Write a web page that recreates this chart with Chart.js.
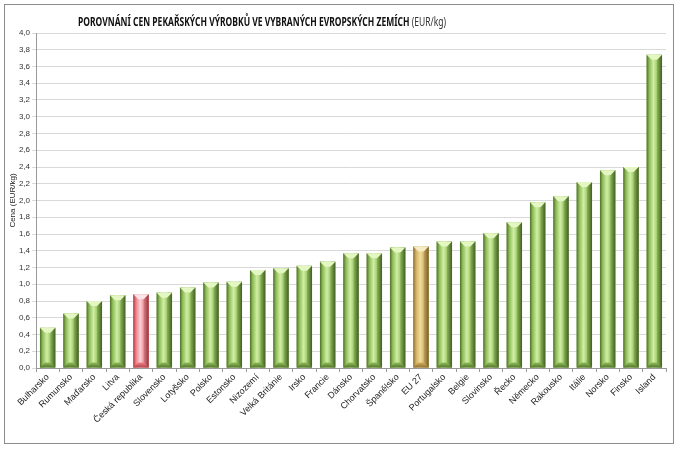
<!DOCTYPE html>
<html lang="cs">
<head>
  <meta charset="UTF-8" />
  <title>Porovnání cen pekařských výrobků</title>
  <script src="https://cdn.jsdelivr.net/npm/chart.js"></script>
  <style>
    body { margin: 0; background: #fff; }
    #wrap { position: relative; width: 682px; height: 449px; }
  </style>
</head>
<body>
  <div id="wrap"><canvas id="chart" width="682" height="449"></canvas></div>

  <script>
    // data
    const countries = ['Bulharsko', 'Rumunsko', 'Maďarsko', 'Litva', 'Česká republika', 'Slovensko', 'Lotyšsko',
      'Polsko', 'Estonsko', 'Nizozemí', 'Velká Británie', 'Irsko', 'Francie', 'Dánsko', 'Chorvatsko',
      'Španělsko', 'EU 27', 'Portugalsko', 'Belgie', 'Slovinsko', 'Řecko', 'Německo', 'Rakousko',
      'Itálie', 'Norsko', 'Finsko', 'Island'];
    const prices = [0.48, 0.65, 0.80, 0.87, 0.88, 0.90, 0.96, 1.02, 1.03, 1.17, 1.19, 1.22, 1.27, 1.37, 1.37,
      1.44, 1.45, 1.51, 1.51, 1.61, 1.74, 1.98, 2.05, 2.22, 2.36, 2.40, 3.74];
    const titleBold = 'POROVNÁNÍ CEN PEKAŘSKÝCH VÝROBKŮ VE VYBRANÝCH EVROPSKÝCH ZEMÍCH';
    const titleUnit = ' (EUR/kg)';
    const yTitle = 'Cena (EUR/kg)';

    const palettes = {
      green: { dark: '#4f6e2c', mid: '#8fbf58', light: '#d2eea6', top: '#e4f7c2', base: '#55742f' },
      red: { dark: '#b03a40', mid: '#ef7f88', light: '#f8d2d8', top: '#fbe4e8', base: '#b5454c' },
      gold: { dark: '#8a6d2c', mid: '#d4b060', light: '#f0dca0', top: '#f7ebc4', base: '#8e7130' }
    };
    function paletteFor(label) {
      if (label === 'Česká republika') return palettes.red;
      if (label === 'EU 27') return palettes.gold;
      return palettes.green;
    }

    const framePlugin = {
      id: 'frame',
      beforeDraw(chart) {
        const c = chart.ctx;
        c.save();
        c.fillStyle = '#fff';
        c.fillRect(0, 0, chart.width, chart.height);
        c.strokeStyle = '#8c8c8c';
        c.lineWidth = 1;
        c.strokeRect(4.5, 4.5, 669, 439);
        c.restore();
      },
      afterDraw(chart) {
        const c = chart.ctx;
        c.save();
        c.textBaseline = 'alphabetic';
        c.font = 'bold 12px "Noto Sans", sans-serif';
        const wb = c.measureText(titleBold).width;
        c.font = '12px "Noto Sans", sans-serif';
        const wu = c.measureText(titleUnit).width;
        const target = 368;
        const sx = target / (wb + wu);
        c.translate(78, 26);
        c.scale(sx, 1);
        c.fillStyle = '#111';
        c.font = 'bold 12px "Noto Sans", sans-serif';
        c.fillText(titleBold, 0, 0);
        c.fillStyle = '#333';
        c.font = '12px "Noto Sans", sans-serif';
        c.fillText(titleUnit, wb, 0);
        c.restore();
      }
    };

    // draws each bar as a bevelled column over the plain bar
    const bevelPlugin = {
      id: 'bevel',
      afterDatasetsDraw(chart) {
        const c = chart.ctx;
        const meta = chart.getDatasetMeta(0);
        meta.data.forEach((bar, i) => {
          const p = paletteFor(countries[i]);
          const w = bar.width;
          const l = bar.x - w / 2, r = bar.x + w / 2;
          const top = bar.y, base = bar.base;
          const bev = Math.min(5, (base - top) / 3);
          const g = c.createLinearGradient(l, 0, r, 0);
          g.addColorStop(0, p.dark);
          g.addColorStop(0.18, p.mid);
          g.addColorStop(0.45, p.light);
          g.addColorStop(0.75, p.mid);
          g.addColorStop(1, p.dark);
          c.save();
          c.fillStyle = g;
          c.fillRect(l, top, w, base - top);
          // top pyramid
          c.fillStyle = p.top;
          c.beginPath();
          c.moveTo(l, top);
          c.lineTo(r, top);
          c.lineTo(r - bev, top + bev);
          c.lineTo(l + bev, top + bev);
          c.closePath();
          c.fill();
          // side shades
          c.fillStyle = 'rgba(0,0,0,0.15)';
          c.beginPath();
          c.moveTo(r, top);
          c.lineTo(r, base);
          c.lineTo(r - bev, base - bev);
          c.lineTo(r - bev, top + bev);
          c.closePath();
          c.fill();
          // bottom band
          const gb = c.createLinearGradient(0, base - bev, 0, base);
          gb.addColorStop(0, p.mid);
          gb.addColorStop(1, p.base);
          c.fillStyle = gb;
          c.beginPath();
          c.moveTo(l, base);
          c.lineTo(r, base);
          c.lineTo(r - bev, base - bev);
          c.lineTo(l + bev, base - bev);
          c.closePath();
          c.fill();
          c.restore();
        });
      }
    };

    new Chart(document.getElementById('chart'), {
      type: 'bar',
      data: {
        labels: countries,
        datasets: [{
          data: prices,
          backgroundColor: countries.map(x => paletteFor(x).mid),
          categoryPercentage: 1,
          barPercentage: 0.66
        }]
      },
      options: {
        responsive: false,
        animation: false,
        events: [],
        layout: { padding: { top: 33, right: 16, left: 0, bottom: 0 } },
        plugins: { legend: { display: false }, tooltip: { enabled: false }, title: { display: false } },
        scales: {
          x: {
            afterFit: s => { s.height = 81; },
            grid: { display: true, drawOnChartArea: false, offset: true, tickLength: 4, color: '#999' },
            border: { color: '#999' },
            ticks: {
              autoSkip: false, maxRotation: 45, minRotation: 45, padding: 0,
              color: '#222', font: { family: '"Liberation Sans Narrow", "Liberation Sans", Arial', size: 9 }
            }
          },
          y: {
            min: 0, max: 4,
            afterFit: s => { s.width = 36; },
            grid: { color: '#d9d9d9', tickLength: 4 },
            border: { color: '#999' },
            title: {
              display: true, text: yTitle, padding: { top: 8, bottom: 0 }, color: '#222',
              font: { family: '"Liberation Sans Narrow", "Liberation Sans", Arial', size: 8 }
            },
            ticks: {
              stepSize: 0.2, padding: 2, color: '#333',
              font: { family: '"Liberation Sans Narrow", "Liberation Sans", Arial', size: 8 },
              callback: v => v.toFixed(1).replace('.', ',')
            }
          }
        }
      },
      plugins: [framePlugin, bevelPlugin]
    });
  </script>
</body>
</html>
